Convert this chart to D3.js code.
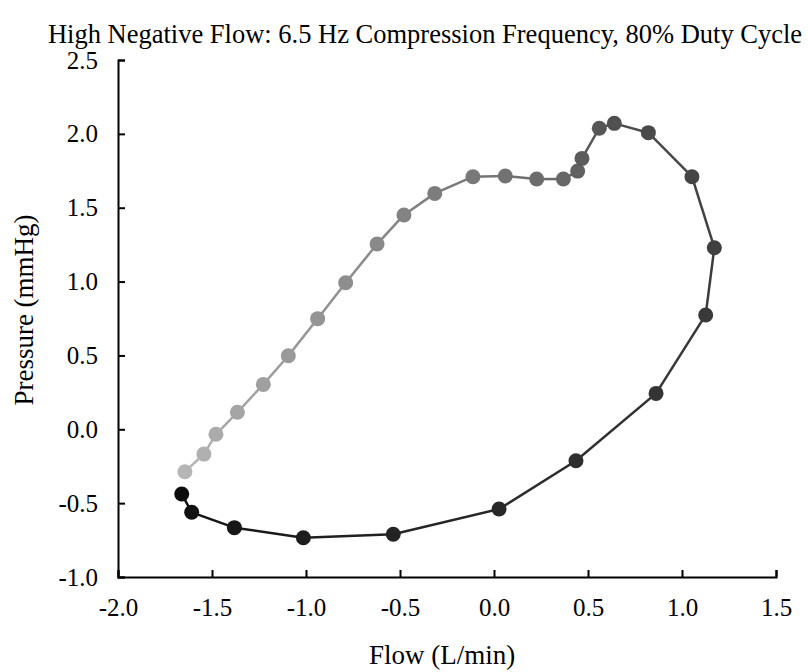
<!DOCTYPE html>
<html>
<head>
<meta charset="utf-8">
<script src="https://cdn.jsdelivr.net/npm/d3@7"></script>
<style>
  body { margin: 0; background: #fff; }
  text { font-family: "Liberation Serif", "Times New Roman", serif; fill: #000; }
</style>
</head>
<body>
<div class="container"></div>
<script>
var w = 808;
var h = 672;

// flow (L/min) and pressure (mmHg) in loop order
var flow = [-1.644, -1.543, -1.479, -1.365, -1.227, -1.094, -0.938, -0.789, -0.622, -0.479,
  -0.315, -0.112, 0.060, 0.227, 0.369, 0.445, 0.468, 0.560, 0.640, 0.821,
  1.053, 1.172, 1.126, 0.862, 0.436, 0.027, -0.536, -1.014, -1.381, -1.608, -1.661];
var pressure = [-0.287, -0.168, -0.034, 0.115, 0.304, 0.498, 0.749, 0.992, 1.254, 1.451,
  1.597, 1.710, 1.715, 1.694, 1.694, 1.748, 1.834, 2.038, 2.071, 2.008,
  1.710, 1.229, 0.774, 0.243, -0.213, -0.540, -0.711, -0.734, -0.666, -0.562, -0.438];
var xTicks = [-2.0, -1.5, -1.0, -0.5, 0.0, 0.5, 1.0, 1.5];
var yTicks = [-1.0, -0.5, 0.0, 0.5, 1.0, 1.5, 2.0, 2.5];

var data = flow.map((f, i) => ({ x: f, y: pressure[i], i: i }));

var svg = d3.select(".container")
  .append("svg")
  .attr("width", w)
  .attr("height", h);

var xScale = d3.scaleLinear().domain([-2.0, 1.5]).range([118, 776]);
var yScale = d3.scaleLinear().domain([-1.0, 2.5]).range([577, 60]);
var colorScale = d3.scaleLinear()
  .domain([0, data.length - 1])
  .range(["#b6b6b6", "#0c0c0c"]);

// axes
var xAxis = svg.append("g")
  .attr("transform", "translate(0," + yScale(-1.0) + ")")
  .call(d3.axisBottom(xScale).tickValues(xTicks)
    .tickSizeInner(-7).tickSizeOuter(-7));
var yAxis = svg.append("g")
  .attr("transform", "translate(" + xScale(-2.0) + ",0)")
  .call(d3.axisLeft(yScale).tickValues(yTicks)
    .tickSizeInner(-7).tickSizeOuter(-7).tickPadding(20));

[xAxis, yAxis].forEach(a => {
  a.selectAll("path, line").attr("stroke", "#000").attr("stroke-width", 2);
  a.selectAll("text")
    .style("font-family", '"Liberation Serif", "Times New Roman", serif')
    .style("font-size", "25px")
    .attr("fill", "#000")
    // plain hyphen, as in the reference
    .text(d => d.toFixed(1));
});
xAxis.selectAll("text").attr("y", 39).attr("dy", 0);

// line segments, each coloured between its end points
var seg = svg.append("g");
for (var i = 0; i < data.length - 1; i++) {
  seg.append("line")
    .attr("x1", xScale(data[i].x))
    .attr("y1", yScale(data[i].y))
    .attr("x2", xScale(data[i + 1].x))
    .attr("y2", yScale(data[i + 1].y))
    .attr("stroke", colorScale(i + 0.5))
    .attr("stroke-width", 2.5);
}

svg.append("g")
  .selectAll("circle")
  .data(data)
  .enter()
  .append("circle")
  .attr("cx", d => xScale(d.x))
  .attr("cy", d => yScale(d.y))
  .attr("r", 7.5)
  .attr("fill", d => colorScale(d.i));

// titles
svg.append("text")
  .attr("x", 425)
  .attr("y", 43)
  .attr("text-anchor", "middle")
  .style("font-size", "26.5px")
  .text("High Negative Flow: 6.5 Hz Compression Frequency, 80% Duty Cycle");

svg.append("text")
  .attr("x", 442)
  .attr("y", 664)
  .attr("text-anchor", "middle")
  .style("font-size", "27px")
  .text("Flow (L/min)");

svg.append("text")
  .attr("transform", "translate(33,310) rotate(-90)")
  .attr("text-anchor", "middle")
  .style("font-size", "27px")
  .text("Pressure (mmHg)");
</script>
</body>
</html>
